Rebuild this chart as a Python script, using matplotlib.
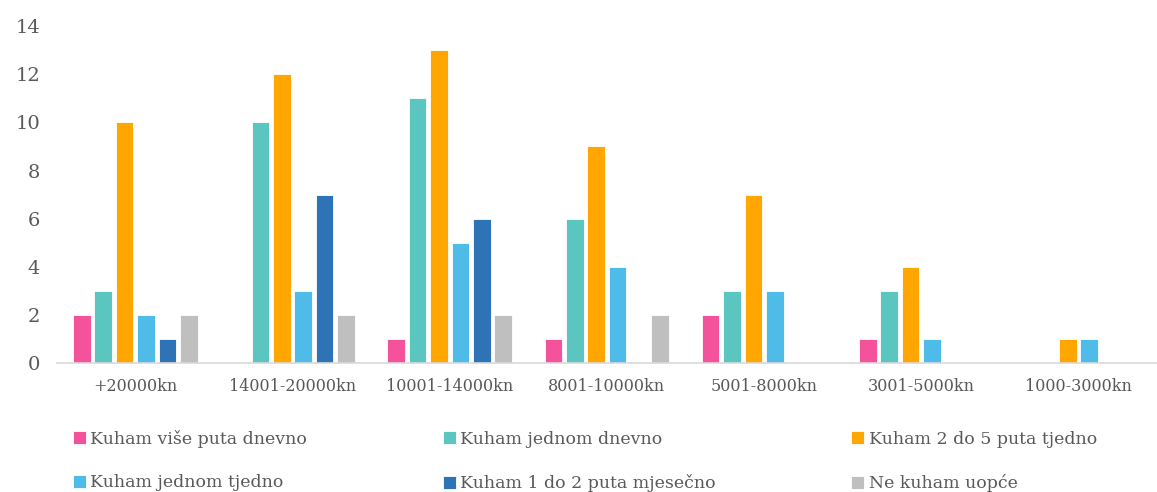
import numpy as np
import matplotlib
matplotlib.use("Agg")
import matplotlib.pyplot as plt

categories = ["+20000kn", "14001-20000kn", "10001-14000kn", "8001-10000kn",
              "5001-8000kn", "3001-5000kn", "1000-3000kn"]
series_names = ["Kuham više puta dnevno", "Kuham jednom dnevno", "Kuham 2 do 5 puta tjedno",
                "Kuham jednom tjedno", "Kuham 1 do 2 puta mjesečno", "Ne kuham uopće"]
vise_puta_dnevno = [2, 0, 1, 1, 2, 1, 0]
jednom_dnevno = [3, 10, 11, 6, 3, 3, 0]
dva_do_pet_tjedno = [10, 12, 13, 9, 7, 4, 1]
jednom_tjedno = [2, 3, 5, 4, 3, 1, 1]
jedan_do_dva_mjesecno = [1, 7, 6, 0, 0, 0, 0]
ne_kuham = [2, 2, 2, 2, 0, 0, 0]
colors = ["#F4529A", "#5BC5BF", "#FFA600", "#4FBBE8", "#2E73B5", "#BFBFBF"]

series = [vise_puta_dnevno, jednom_dnevno, dva_do_pet_tjedno,
          jednom_tjedno, jedan_do_dva_mjesecno, ne_kuham]

plt.rcParams['font.family'] = ['DejaVu Serif']
text_col = "#595959"

fig = plt.figure(figsize=(11.57, 4.92), dpi=100)
ax = fig.add_axes([0.049, 0.262, 0.951, 0.685])

x = np.arange(len(categories))
pitch = 0.136
width = 0.112
handles = []
for i, (vals, name, c) in enumerate(zip(series, series_names, colors)):
    offs = (i - 2.5) * pitch
    b = ax.bar(x + offs, vals, width, color=c, label=name, edgecolor="white", linewidth=0.6)
    handles.append(b)

ax.set_xlim(-0.5, len(categories) - 0.5)
ax.set_ylim(0, 14)
ax.set_yticks(range(0, 15, 2))
ax.set_xticks(x)
ax.set_xticklabels(categories)
ax.tick_params(axis="both", length=0, colors=text_col)
ax.tick_params(axis="y", labelsize=14, pad=12)
ax.tick_params(axis="x", labelsize=11.5, pad=11)
for s in ["top", "right", "left"]:
    ax.spines[s].set_visible(False)
ax.spines["bottom"].set_color("#D9D9D9")
ax.spines["bottom"].set_linewidth(1.2)

# legend fills column by column, so reorder to read row by row
order = [0, 3, 1, 4, 2, 5]
leg = fig.legend([handles[k] for k in order], [series_names[k] for k in order],
                 loc="upper left", bbox_to_anchor=(0.063, 0.127, 0.885, 0.0), mode="expand",
                 ncol=3, frameon=False, fontsize=12.5, handlelength=0.75, handleheight=0.75,
                 handletextpad=0.25, labelspacing=1.55, borderaxespad=0.0, borderpad=0.0)
for t in leg.get_texts():
    t.set_color(text_col)

fig.savefig("out.png", dpi=100)
